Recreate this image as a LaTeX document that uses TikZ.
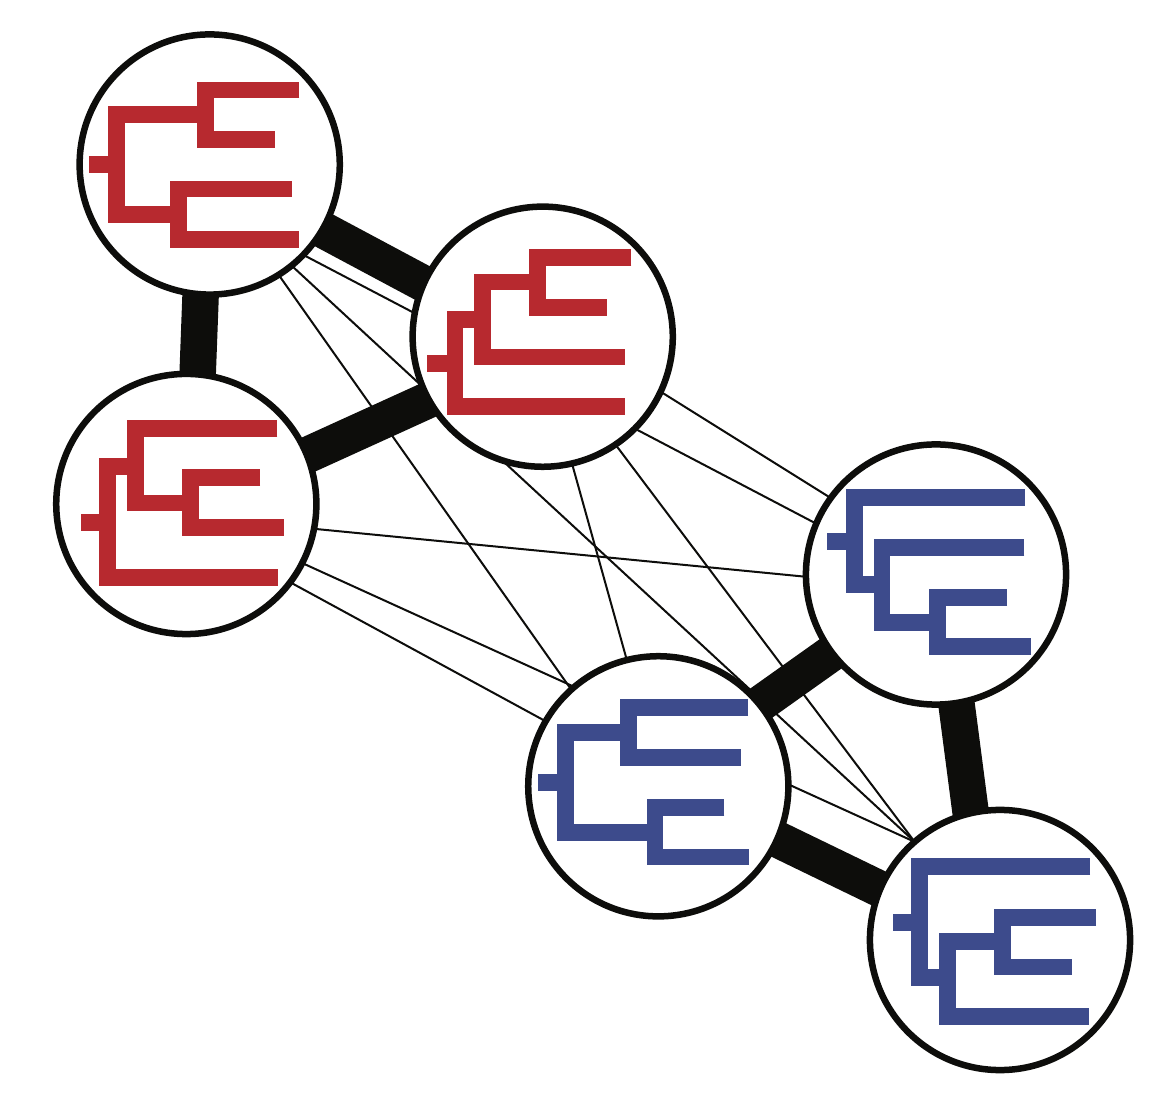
\documentclass[tikz,border=0pt]{standalone}
\usepackage{xcolor}
\usetikzlibrary{arrows,shapes}
\pgfdeclarelayer{background}
\pgfsetlayers{background,main}
\definecolor{treered}{HTML}{B7292F}
\definecolor{treeblue}{HTML}{3D4B8C}
\definecolor{edgeblack}{HTML}{0D0D0B}
\tikzstyle{vertex}=[circle,draw=edgeblack,fill=white,line width=0.065cm,minimum size=2.6cm,inner sep=0pt,outer sep=0pt]
\tikzstyle{weak edge} = [draw=edgeblack,line width=0.02cm,-]
\tikzstyle{strong edge} = [draw=edgeblack,line width=0.365cm,-,shorten <=-0.1cm,shorten >=-0.1cm]
\tikzstyle{red branch} = [draw=treered,line width=0.166cm,miter limit=10]
\tikzstyle{blue branch} = [draw=treeblue,line width=0.166cm,miter limit=10]

\begin{document}
\begin{tikzpicture}[x=0.01cm,y=-0.01cm]
    \useasboundingbox (0,0) rectangle (1164,1095);
    % First we draw the vertices
    \foreach \pos/\name in {{(209.7,164.5)/R1}, {(542.7,336.7)/R2}, {(186.3,504)/R3}, {(936,574.5)/B1}, {(658.3,786.3)/B2}, {(1000,940)/B3}}
        \node[vertex] (\name) at \pos {};

    % Connect vertices with edges, behind the circles
    \begin{pgfonlayer}{background}
    \foreach \source/\dest in {R1.-44.7/B1.157.6, R1.-51/B3.131.6, R1.-58.5/B2.132.1, R2.-25.8/B1.144.2, R2.-77/B2.104.5, R2.-56/B3.131.6, R3.-11/B1.-179.3, R3.-37.6/B2.150, R3.-27.9/B3.131.6}
        \path[weak edge] (\source) -- (\dest);
    \foreach \source/\dest in {R1.-30.4/R2.156.6, R1.-94/R3.85.5, R3.22.1/R2.-151.2, B2.39/B1.-143.5, B1.-81.6/B3.103.1, B2.-24.8/B3.157}
        \path[strong edge] (\source) -- (\dest);
    \end{pgfonlayer}

    % Red trees: stem, then brackets x/top y/top end/bottom y/bottom end
    \foreach \from/\y/\to in {89/164.3/116.2, 427.3/363.3/455, 81/522.7/107.7}
        \path[red branch] (\from,\y) -- (\to,\y);
    \foreach \x/\top/\topend/\bot/\botend in {116.2/114.3/205.2/214.3/178.8, 205.2/90/299.3/139.3/275, 178.8/189.2/291.7/239.3/298.7,
        455/319.8/482.3/406.7/625.3, 482.3/282.2/537.7/357/625, 537.7/257.8/631.3/307.5/607.3,
        107.7/466.8/135.2/577.5/278, 135.2/428.3/277.3/503/190.2, 190.2/477.7/260/527.5/284}
        \path[red branch] (\topend,\top) -- (\x,\top) -- (\x,\bot) -- (\botend,\bot);

    % Blue trees
    \foreach \from/\y/\to in {827/541.5/854.5, 538.3/782.5/565.5, 893/922.2/919.7}
        \path[blue branch] (\from,\y) -- (\to,\y);
    \foreach \x/\top/\topend/\bot/\botend in {854.5/497.8/1024.7/584.8/881.8, 881.8/547.5/1024.3/622.5/937.2, 937.2/597.2/1007/646.7/1030.7,
        565.5/732.2/628.3/832.5/654.8, 628.3/707.5/748/757.5/741.3, 654.8/807.2/724.3/857/748.7,
        919.7/866.5/1090/977.8/947.2, 947.2/941.5/1002.2/1016.5/1089.3, 1002.2/917.2/1096/967/1072}
        \path[blue branch] (\topend,\top) -- (\x,\top) -- (\x,\bot) -- (\botend,\bot);
\end{tikzpicture}
\end{document}
